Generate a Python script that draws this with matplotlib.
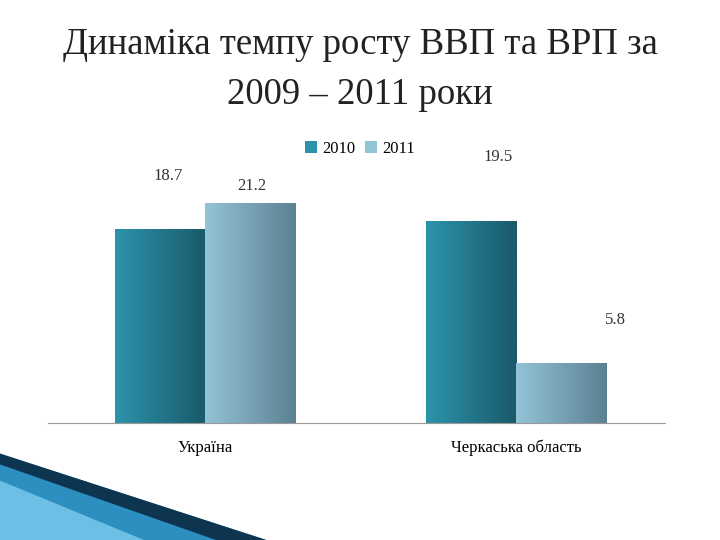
import matplotlib
matplotlib.use("Agg")
import matplotlib.pyplot as plt
import numpy as np
from matplotlib.patches import Polygon
from matplotlib.colors import LinearSegmentedColormap

categories = ["Україна", "Черкаська область"]
series = ["2010", "2011"]
v2010 = [18.7, 19.5]
v2011 = [21.2, 5.8]
labels = [["18.7", "19.5"], ["21.2", "5.8"]]
label_pos = [[(-0.12, 23.8), (0.94, 25.7)], [(0.15, 22.9), (1.32, 9.9)]]

plt.rcParams['font.family'] = ['Liberation Serif', 'DejaVu Serif']
fig = plt.figure(figsize=(7.2, 5.4), dpi=100)
fig.text(0.5, 0.917, "Динаміка темпу росту ВВП та ВРП за", ha='center', va='center',
         fontsize=26.5, color='#222222')
fig.text(0.5, 0.824, "2009 – 2011 роки", ha='center', va='center',
         fontsize=26.5, color='#222222')

ax = fig.add_axes([0.067, 0.2167, 0.857, 0.543])
x = np.arange(len(categories))
w = 0.29
cols = [("#2c93ab", "#1a5a6b"), ("#93c3d6", "#5c8193")]
for si, vals in enumerate([v2010, v2011]):
    cmap = LinearSegmentedColormap.from_list("g", cols[si])
    bars = ax.bar(x + (si - 0.5) * w, vals, w, color=cols[si][0], label=series[si])
    for b in bars:
        x0, y0 = b.get_x(), b.get_y()
        im = ax.imshow(np.linspace(0, 1, 50).reshape(1, -1), cmap=cmap, aspect='auto',
                       extent=[x0, x0 + b.get_width(), y0, y0 + b.get_height()], zorder=2)
        im.set_clip_path(b)
    for j in range(len(categories)):
        px, py = label_pos[si][j]
        ax.text(px, py, labels[si][j], ha='center', va='center', fontsize=12, color='#333333')
ax.set_xlim(-0.505, 1.479)
ax.set_ylim(0, 28.3)
ax.set_yticks([])
ax.set_xticks(x)
ax.set_xticklabels(categories, fontsize=12)
ax.tick_params(axis='x', length=0, pad=12)
for s in ['top', 'left', 'right']:
    ax.spines[s].set_visible(False)
ax.spines['bottom'].set_color('#999999')
leg = ax.legend(loc='center', bbox_to_anchor=(0.5, 0.724), bbox_transform=fig.transFigure, ncol=2,
                frameon=False, fontsize=12, handlelength=0.7, handleheight=0.7, columnspacing=0.6,
                handletextpad=0.3)

# decorative corner
fig.patches.append(Polygon([[0, 0], [0, 0.16], [0.37, 0]], closed=True, transform=fig.transFigure,
                           facecolor='#2d8fc0', edgecolor='none'))
fig.patches.append(Polygon([[0, 0.16], [0.37, 0], [0.30, 0], [0, 0.14]], closed=True,
                           transform=fig.transFigure, facecolor='#0d3550', edgecolor='none'))
fig.patches.append(Polygon([[0, 0], [0, 0.11], [0.2, 0]], closed=True, transform=fig.transFigure,
                           facecolor='#6cc0e6', edgecolor='none'))
fig.savefig("out.png", dpi=100)
